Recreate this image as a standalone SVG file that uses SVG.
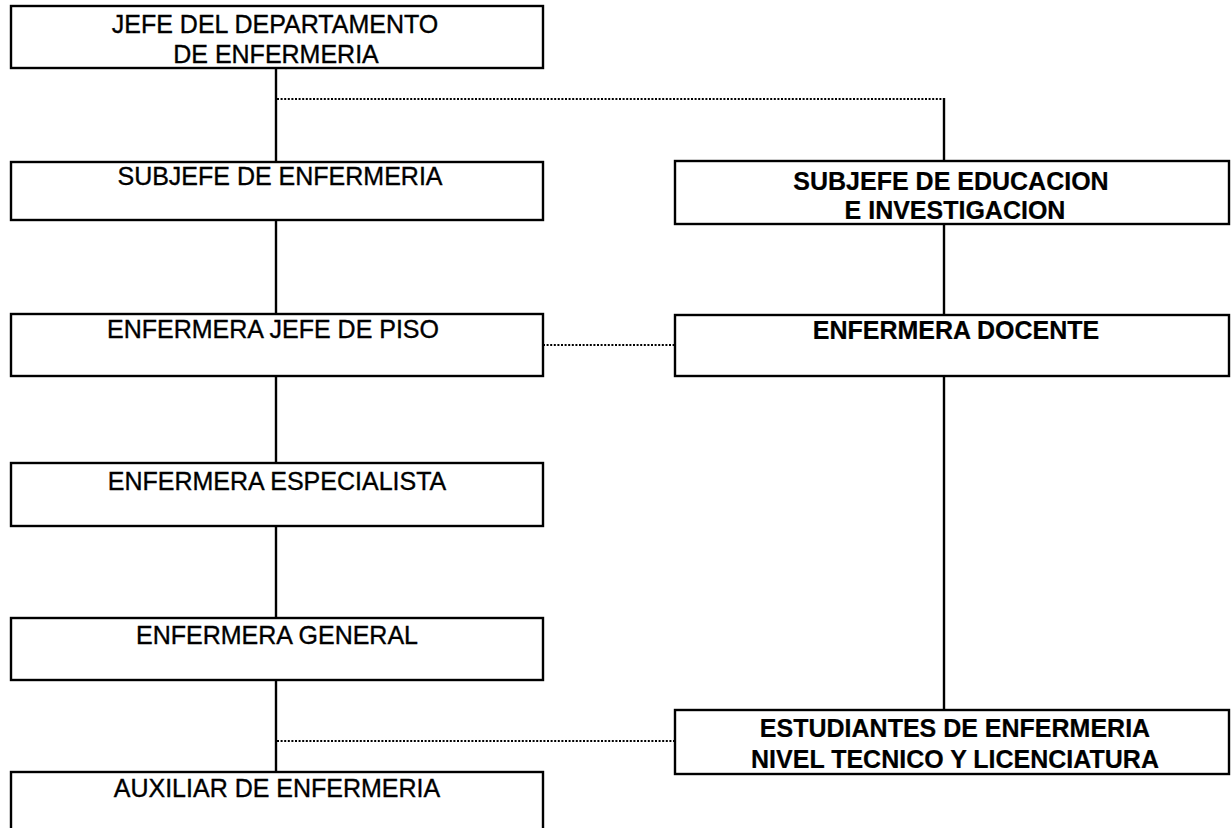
<svg xmlns="http://www.w3.org/2000/svg" width="1232" height="828" viewBox="0 0 1232 828">
<style>
.box{fill:#fff;stroke:#000;stroke-width:2.4}
.t{font-family:"Liberation Sans",Arial,sans-serif;font-size:25px;fill:#000;stroke:#000;stroke-width:0.35;text-anchor:middle}
.b{font-weight:bold;stroke-width:0.2}
.solid{stroke:#000;stroke-width:2.4;fill:none}
.dot{stroke:#000;stroke-width:2.2;stroke-dasharray:2 1.6;fill:none}
</style>
<rect width="1232" height="828" fill="#fff"/>
<g id="connectors">
<line class="solid" x1="276" y1="68" x2="276" y2="162"/>
<line class="solid" x1="276" y1="220" x2="276" y2="314"/>
<line class="solid" x1="276" y1="376" x2="276" y2="463"/>
<line class="solid" x1="276" y1="526" x2="276" y2="618"/>
<line class="solid" x1="276" y1="680" x2="276" y2="772"/>
<line class="dot" x1="277" y1="99" x2="944" y2="99"/>
<line class="solid" x1="944" y1="98" x2="944" y2="161"/>
<line class="solid" x1="944" y1="224" x2="944" y2="315"/>
<line class="solid" x1="944" y1="376" x2="944" y2="710"/>
<line class="dot" x1="543" y1="345" x2="675" y2="345"/>
<line class="dot" x1="277" y1="741" x2="675" y2="741"/>
</g>
<g id="jefe-departamento">
<rect class="box" x="11" y="6" width="532" height="62"/>
<text class="t" x="275" y="33">JEFE DEL DEPARTAMENTO</text>
<text class="t" x="276" y="63">DE ENFERMERIA</text>
</g>
<g id="subjefe-enfermeria">
<rect class="box" x="11" y="162" width="532" height="58"/>
<text class="t" x="280" y="185">SUBJEFE DE ENFERMERIA</text>
</g>
<g id="jefe-piso">
<rect class="box" x="11" y="314" width="532" height="62"/>
<text class="t" x="273" y="338">ENFERMERA JEFE DE PISO</text>
</g>
<g id="especialista">
<rect class="box" x="11" y="463" width="532" height="63"/>
<text class="t" x="277" y="490">ENFERMERA ESPECIALISTA</text>
</g>
<g id="general">
<rect class="box" x="11" y="618" width="532" height="62"/>
<text class="t" x="277" y="644">ENFERMERA GENERAL</text>
</g>
<g id="auxiliar">
<rect class="box" x="11" y="772" width="532" height="80"/>
<text class="t" x="277" y="797">AUXILIAR DE ENFERMERIA</text>
</g>
<g id="subjefe-educacion">
<rect class="box" x="675" y="161" width="554" height="63"/>
<text class="t b" x="951" y="190">SUBJEFE DE EDUCACION</text>
<text class="t b" x="955" y="219">E INVESTIGACION</text>
</g>
<g id="docente">
<rect class="box" x="675" y="315" width="554" height="61"/>
<text class="t b" x="956" y="339">ENFERMERA DOCENTE</text>
</g>
<g id="estudiantes">
<rect class="box" x="675" y="710" width="554" height="64"/>
<text class="t b" x="955" y="737">ESTUDIANTES DE ENFERMERIA</text>
<text class="t b" x="955" y="768">NIVEL TECNICO Y LICENCIATURA</text>
</g>
</svg>
